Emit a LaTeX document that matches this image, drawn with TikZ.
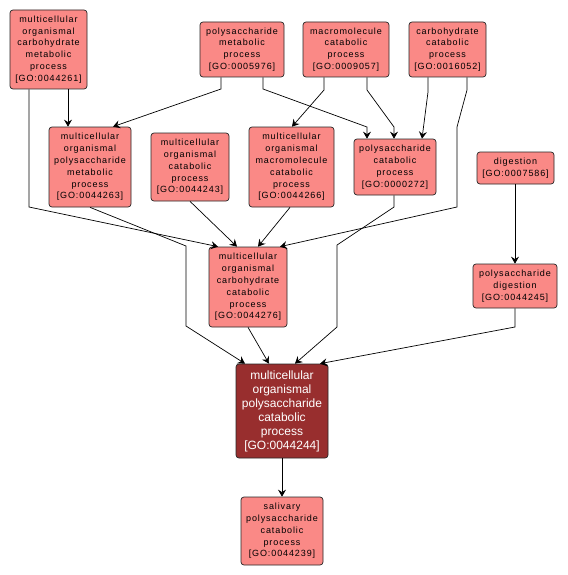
\documentclass[tikz,border=0pt]{standalone}
\usepackage{fontspec}
\setmainfont{Liberation Sans}
\newfontfamily\gofont[LetterSpace=10]{Liberation Sans}
\usetikzlibrary{arrows.meta}
\definecolor{gosalmon}{RGB}{250,137,134}
\definecolor{gomaroon}{RGB}{152,46,46}
\tikzset{
  term/.style={draw=black!85, fill=gosalmon, rounded corners=3pt, align=center, inner sep=1pt,
    line width=0.7pt, font=\gofont\fontsize{9}{11.8}\selectfont},
  focus/.style={term, fill=gomaroon, text=white, font=\fontsize{12}{14}\selectfont},
  edge/.style={line width=0.7pt, -{Stealth[length=7pt,width=8pt,inset=2.5pt]}},
}

\begin{document}
\begin{tikzpicture}[x=1pt,y=-1pt]
			\useasboundingbox (0,0) rectangle (567,575);

			\node[term, minimum width=77, minimum height=79] (n44261) at (48.5,49.5) {multicellular\\organismal\\carbohydrate\\metabolic\\process\\{[GO:0044261]}};
			\node[term, minimum width=84, minimum height=55] (n5976) at (242,49.5) {polysaccharide\\metabolic\\process\\{[GO:0005976]}};
			\node[term, minimum width=86, minimum height=55] (n9057) at (346,49.5) {macromolecule\\catabolic\\process\\{[GO:0009057]}};
			\node[term, minimum width=77, minimum height=55] (n16052) at (447.5,49.5) {carbohydrate\\catabolic\\process\\{[GO:0016052]}};

			\node[term, minimum width=82, minimum height=80] (n44263) at (90,167) {multicellular\\organismal\\polysaccharide\\metabolic\\process\\{[GO:0044263]}};
			\node[term, minimum width=78, minimum height=68] (n44243) at (190,167) {multicellular\\organismal\\catabolic\\process\\{[GO:0044243]}};
			\node[term, minimum width=85, minimum height=80] (n44266) at (291.5,167) {multicellular\\organismal\\macromolecule\\catabolic\\process\\{[GO:0044266]}};
			\node[term, minimum width=82, minimum height=56] (n272) at (395,167) {polysaccharide\\catabolic\\process\\{[GO:0000272]}};
			\node[term, minimum width=77, minimum height=32] (n7586) at (515.5,168) {digestion\\{[GO:0007586]}};

			\node[term, minimum width=78, minimum height=80] (n44276) at (248,287) {multicellular\\organismal\\carbohydrate\\catabolic\\process\\{[GO:0044276]}};
			\node[term, minimum width=84, minimum height=44] (n44245) at (515,286) {polysaccharide\\digestion\\{[GO:0044245]}};

			\node[focus, minimum width=92, minimum height=94] (n44244) at (282,411) {multicellular\\organismal\\polysaccharide\\catabolic\\process\\{[GO:0044244]}};
			\node[term, minimum width=82, minimum height=68] (n44239) at (282,531) {salivary\\polysaccharide\\catabolic\\process\\{[GO:0044239]}};

			% edges, top row
			\draw[edge] (n44261.south -| 68,0) -- (n44263.north -| 68,0);
			\draw[edge] (n44261.south -| 29,0) -- (29,207) -- (n44276.north -| 218,0);
			\draw[edge] (n5976.south -| 221,0) -- (221,89) -- (n44263.north -| 113,0);
			\draw[edge] (n5976.south -| 263,0) -- (263,89) -- (367,127) -- (n272.north -| 367,0);
			\draw[edge] (n9057.south -| 324,0) -- (324,90) -- (n44266.north -| 292,0);
			\draw[edge] (n9057.south -| 367,0) -- (367,90) -- (394,127) -- (n272.north -| 394,0);
			\draw[edge] (n16052.south -| 428,0) -- (428,92) -- (n272.north -| 422,0);
			\draw[edge] (n16052.south -| 467,0) -- (467,90) -- (457,127) -- (457,207) -- (n44276.north -| 280,0);

			% edges, middle row
			\draw[edge] (n44263.south -| 90,0) -- (186,246) -- (186,326) -- (n44244.north -| 245,0);
			\draw[edge] (n44243.south -| 190,0) -- (n44276.north -| 237,0);
			\draw[edge] (n44266.south -| 290,0) -- (n44276.north -| 258,0);
			\draw[edge] (n272.south -| 394,0) -- (394,207) -- (337,245) -- (337,327) -- (n44244.north -| 295,0);
			\draw[edge] (n7586.south -| 515,0) -- (n44245.north -| 515,0);

			% edges, lower rows
			\draw[edge] (n44245.south -| 515,0) -- (515,327) -- (n44244.north -| 320,0);
			\draw[edge] (n44276.south -| 248,0) -- (n44244.north -| 269,0);
			\draw[edge] (n44244.south) -- (n44239.north);
\end{tikzpicture}
\end{document}
